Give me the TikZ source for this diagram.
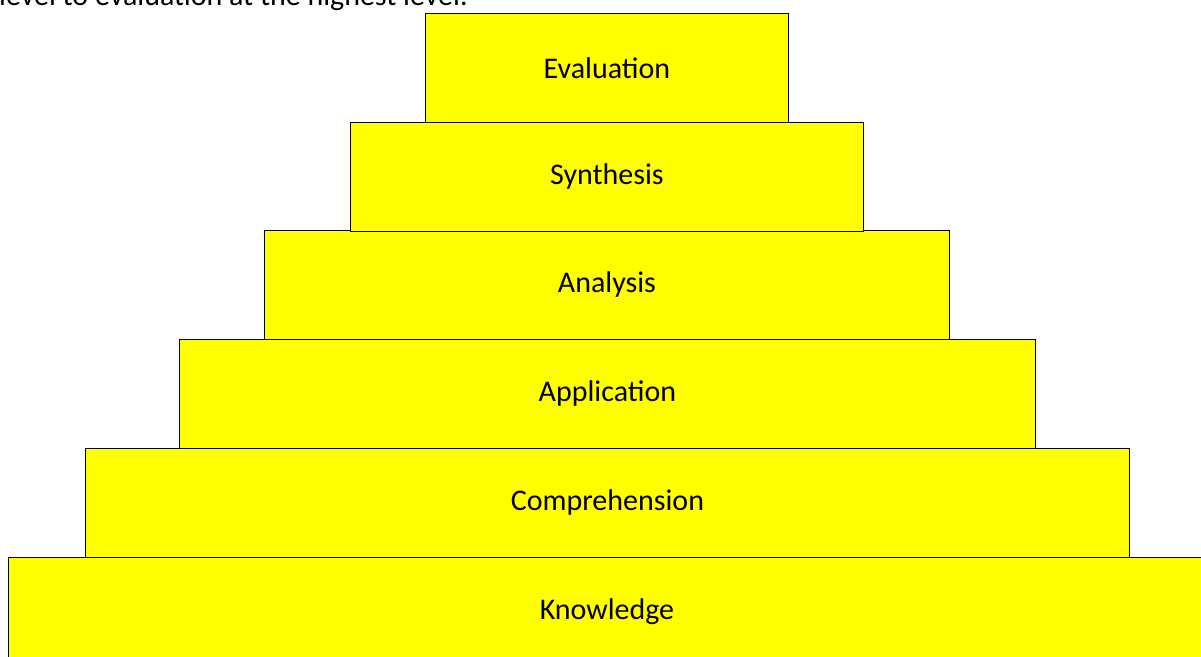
\documentclass[tikz,border=0pt]{standalone}
\usepackage{fontspec}
\setmainfont{Carlito}
\definecolor{tieryellow}{RGB}{255,255,0}
\begin{document}
\begin{tikzpicture}[x=1pt,y=-1pt,
  tier/.style={draw=black, line width=0.9pt, fill=tieryellow, minimum height=109pt,
    inner sep=0pt, font=\fontsize{30}{36}\selectfont, anchor=north west},
  intro/.style={inner sep=0pt, anchor=base west, font=\fontsize{30}{36}\selectfont}]
\useasboundingbox (0,0) rectangle (1201,656);
\clip (0,0) rectangle (1201,656);
\fill[white] (0,0) rectangle (1201,656);
\node[intro] (introtext) at (-1,5.5) {level to evaluation at the highest level.};
\node[tier, minimum width=1197pt] (know) at (8,557) {Knowledge};
\node[tier, minimum width=1044pt] (comp) at (85,448) {Comprehension};
\node[tier, minimum width=856pt] (appl) at (179,339) {Application};
\node[tier, minimum width=685pt] (anal) at (264,230) {Analysis};
\node[tier, minimum width=513pt] (synt) at (350,122) {Synthesis};
\node[tier, minimum width=363pt] (eval) at (425,13) {Evaluation};
\end{tikzpicture}
\end{document}
